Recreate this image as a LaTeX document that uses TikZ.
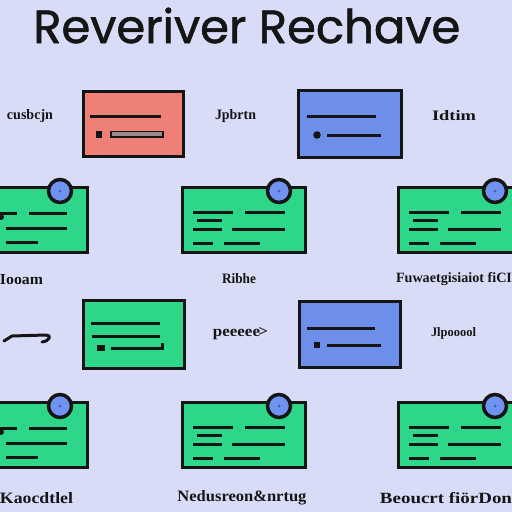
\documentclass[tikz,border=0pt]{standalone}
\usepackage{fontspec}
\newfontfamily\titlefont{Poppins}[FakeBold=1.2]
\newfontfamily\labfont{Liberation Serif}
\definecolor{bg}{HTML}{D9DCF7}
\definecolor{ink}{HTML}{151515}
\definecolor{boxred}{HTML}{EF8078}
\definecolor{boxblue}{HTML}{6E8FE9}
\definecolor{boxgreen}{HTML}{2ED68A}
\definecolor{pinblue}{HTML}{7092F0}
\definecolor{pindot}{HTML}{3F60B8}
\definecolor{bargray}{HTML}{9C8A8A}
\tikzset{
  frame/.style={draw=ink, line width=3pt},
  bar/.style={draw=ink, line width=3pt},
  pinmark/.style={draw=ink, line width=3.5pt, fill=pinblue},
  lab/.style={inner sep=0pt, text=ink, font=\labfont\bfseries},
}
\newcommand\garble[3]{\resizebox{#1pt}{#2pt}{#3}}
\newcommand\pincard[2]{%
  \draw[frame, fill=boxgreen] ({#1},{#2}) rectangle ({#1+123},{#2+65});
  \draw[bar] ({#1+11},{#2+25}) -- ({#1+51},{#2+25});
  \draw[bar] ({#1+63},{#2+25}) -- ({#1+103},{#2+25});
  \draw[bar] ({#1+15},{#2+33}) -- ({#1+40},{#2+33});
  \draw[bar] ({#1+11},{#2+42}) -- ({#1+40},{#2+42});
  \draw[bar] ({#1+50},{#2+42}) -- ({#1+103},{#2+42});
  \draw[bar] ({#1+11},{#2+56}) -- ({#1+31},{#2+56});
  \draw[bar] ({#1+42},{#2+56}) -- ({#1+78},{#2+56});
  \draw[pinmark] ({#1+97},{#2+4}) circle (11.5);
  \fill[pindot] ({#1+97},{#2+4}) circle (1.5);
}
\newcommand\edgecard[1]{%
  \draw[frame, fill=boxgreen] (-10,{#1}) rectangle (87,{#1+65});
  \draw[bar] (-2,{#1+26}) -- (17,{#1+26});
  \draw[bar] (29,{#1+26}) -- (67,{#1+26});
  \fill[ink] (1,{#1+30}) circle (3);
  \draw[bar] (6,{#1+41}) -- (67,{#1+41});
  \draw[bar] (6,{#1+55}) -- (38,{#1+55});
  \draw[pinmark] (60,{#1+4}) circle (11.5);
  \fill[pindot] (60,{#1+4}) circle (1.5);
}
\begin{document}
\begin{tikzpicture}[x=1pt,y=-1pt]
\fill[bg] (0,0) rectangle (512,512);
\useasboundingbox (0,0) rectangle (512,512);
\clip (0,0) rectangle (512,512);

% title
\node[anchor=base west, inner sep=0pt, text=ink] (title) at (33,43)
  {\resizebox{427pt}{!}{\titlefont Reveriver Rechave}};

% row 1
\draw[frame, fill=boxred] (83,91) rectangle (183,156);
\draw[bar] (90,116) -- (161,116);
\fill[ink] (96,131) rectangle (102,138);
\draw[draw=ink, line width=1.8pt, fill=bargray] (111,131.5) rectangle (163,137);

\draw[frame, fill=boxblue] (298,90) rectangle (401,157);
\draw[bar] (307,116) -- (376,116);
\fill[ink] (317,135) circle (3.8);
\draw[bar] (327,135) -- (381,135);

\node[lab] (l1) at (30,116) {\garble{46}{10}{cusbcjn}};
\node[lab] (l2) at (235.5,116) {\garble{41}{10}{Jpbrtn}};
\node[lab] (l3) at (454,116) {\garble{44}{10}{Idtim}};

% row 2
\edgecard{187}
\pincard{182}{187}
\pincard{398}{187}

\node[lab] (l4) at (21.5,280) {\garble{43}{10}{Iooam}};
\node[lab] (l5) at (239,279) {\garble{34}{10}{Ribhe}};
\node[lab] (l6) at (454,279) {\garble{116}{10}{Fuwaetgisiaiot fiCI}};

% row 3
\draw[ink, line width=3pt, line cap=round, line join=round]
  (4,341) -- (12,336) -- (46,335) .. controls (52,335) and (50,341) .. (42,342);

\draw[frame, fill=boxgreen] (83,300) rectangle (184,368);
\draw[bar] (91,323) -- (160,323);
\draw[bar] (92,336) -- (160,336);
\fill[ink] (97,345) rectangle (105,351);
\draw[bar] (111,348) -- (162,348) -- (162,343);

\node[lab] (l7) at (240.5,334) {\garble{55}{9}{peeeee\kern-1pt>}};

\draw[frame, fill=boxblue] (299,301) rectangle (400,367);
\draw[bar] (307,328) -- (375,328);
\fill[ink] (314,342) rectangle (320,348);
\draw[bar] (327,345) -- (381,345);

\node[lab] (l8) at (453.5,333) {\garble{45}{9}{Jlpooool}};

% row 4
\edgecard{402}
\pincard{182}{402}
\pincard{398}{402}

\node[lab] (l9) at (36.5,498) {\garble{73}{11}{Kaocdtlel}};
\node[lab] (l10) at (242,498) {\garble{129}{11}{Nedusreon\&nrtug}};
\node[lab] (l11) at (446,498) {\garble{132}{11}{Beoucrt fiörDon}};
\end{tikzpicture}
\end{document}
